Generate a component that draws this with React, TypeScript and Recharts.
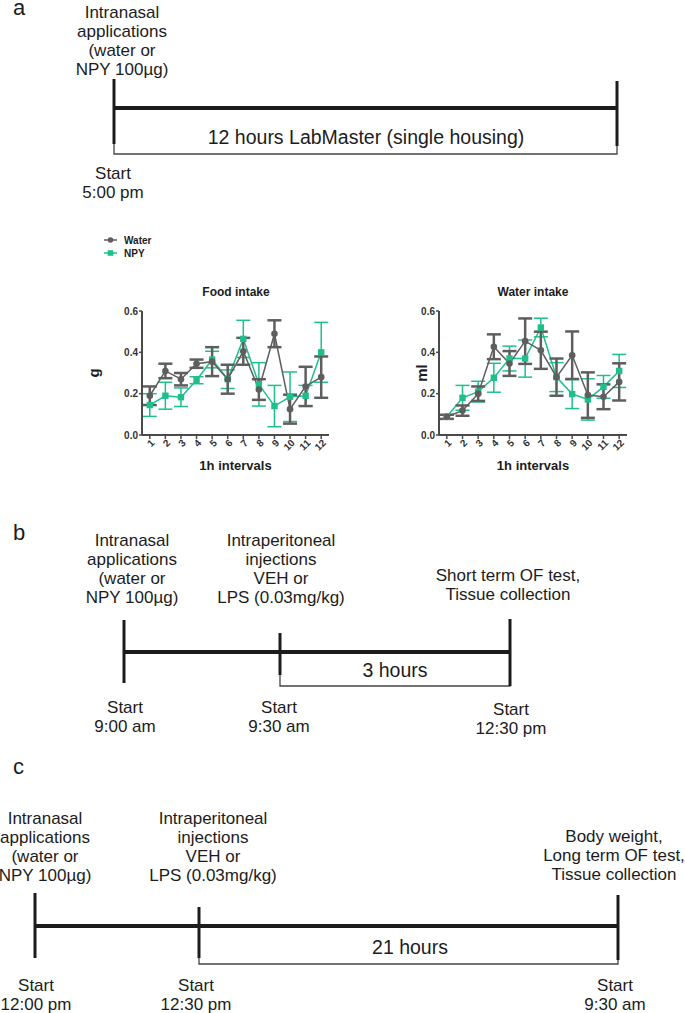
import React from 'react';
import { LineChart, Line, XAxis, YAxis, ErrorBar } from 'recharts';

// 1h intervals after the intranasal application
const hours = [1, 2, 3, 4, 5, 6, 7, 8, 9, 10, 11, 12];
const yTicks = [0, 0.2, 0.4, 0.6];
const groups = ['Water', 'NPY'];

// Food intake (g), mean and SEM
const foodWater = [0.19, 0.31, 0.27, 0.345, 0.355, 0.27, 0.405, 0.22, 0.49, 0.125, 0.235, 0.28];
const foodWaterErr = [0.045, 0.035, 0.03, 0.02, 0.07, 0.07, 0.065, 0.05, 0.065, 0.07, 0.095, 0.1];
const foodNpy = [0.145, 0.19, 0.183, 0.265, 0.365, 0.27, 0.465, 0.245, 0.14, 0.185, 0.19, 0.4];
const foodNpyErr = [0.055, 0.065, 0.045, 0.017, 0.04, 0.045, 0.09, 0.105, 0.1, 0.12, 0.05, 0.145];

// Water intake (ml), mean and SEM
const waterWater = [0.088, 0.118, 0.2, 0.427, 0.346, 0.454, 0.41, 0.28, 0.386, 0.193, 0.185, 0.257];
const waterWaterErr = [0.01, 0.025, 0.035, 0.06, 0.06, 0.11, 0.09, 0.09, 0.115, 0.11, 0.06, 0.09];
const waterNpy = [0.088, 0.18, 0.21, 0.277, 0.37, 0.37, 0.52, 0.28, 0.198, 0.172, 0.233, 0.31];
const waterNpyErr = [0.01, 0.06, 0.05, 0.07, 0.06, 0.09, 0.045, 0.07, 0.07, 0.1, 0.055, 0.08];

// timeline texts
const intranasal = ['Intranasal', 'applications', '(water or', 'NPY 100µg)'];
const intraperitoneal = ['Intraperitoneal', 'injections', 'VEH or', 'LPS (0.03mg/kg)'];

const GRAY = '#5e5e5e';
const GREEN = '#1fbf8d';
const AXIS = '#4a4a4a';
const INK = '#1c1c1c';
const FONT = 'Arial, "Liberation Sans", Helvetica, sans-serif';

function makeRows(water: number[], waterErr: number[], npy: number[], npyErr: number[]) {
  return hours.map((h, i) => ({ hour: h, water: water[i], waterErr: waterErr[i], npy: npy[i], npyErr: npyErr[i] }));
}

function HourTick({ x, y, payload }: any) {
  const ax = x + 3;
  const ay = y;
  return (
    <text x={ax} y={ay} transform={`rotate(-45 ${ax} ${ay})`} textAnchor="end" dominantBaseline="central"
      fontSize={10} fontWeight={700} fill="#333" fontFamily={FONT}>
      {payload.value}
    </text>
  );
}

function SideLabel({ viewBox, text, cx }: any) {
  const cy = viewBox.y + viewBox.height / 2;
  return (
    <text x={cx} y={cy} transform={`rotate(-90 ${cx} ${cy})`} textAnchor="middle" dominantBaseline="central"
      fontSize={15} fontWeight={700} fill={INK} fontFamily={FONT}>
      {text}
    </text>
  );
}

function BottomLabel({ viewBox, text }: any) {
  return (
    <text x={viewBox.x + viewBox.width / 2} y={viewBox.y + 30} textAnchor="middle" dominantBaseline="central"
      fontSize={13} fontWeight={700} fill={INK} fontFamily={FONT}>
      {text}
    </text>
  );
}

const circleDot = (p: any) =>
  <circle key={'w' + p.index} cx={p.cx} cy={p.cy} r={3.3} fill={GRAY} />;
const squareDot = (p: any) =>
  <rect key={'n' + p.index} x={p.cx - 3.2} y={p.cy - 3.2} width={6.4} height={6.4} fill={GREEN} />;

function IntakeChart({ rows, unit, unitX, yWidth }: any) {
  return (
    <LineChart width={260} height={200} data={rows} margin={{ top: 31, right: 11, bottom: 0, left: 10 }}>
      <XAxis dataKey="hour" type="number" domain={[0.5, 12.5]} ticks={hours} interval={0} height={45}
        axisLine={{ stroke: AXIS, strokeWidth: 2 }} tickLine={{ stroke: AXIS, strokeWidth: 1.5 }}
        tickSize={4} tickMargin={2} tick={<HourTick />} label={<BottomLabel text="1h intervals" />} />
      <YAxis type="number" domain={[0, 0.6]} ticks={yTicks} width={yWidth} interval={0}
        axisLine={{ stroke: AXIS, strokeWidth: 2 }} tickLine={{ stroke: AXIS, strokeWidth: 1.5 }}
        tickSize={3} tickMargin={1} tickFormatter={(v: number) => v.toFixed(1)}
        tick={{ fontSize: 10, fontWeight: 700, fill: '#333', fontFamily: FONT }}
        label={<SideLabel text={unit} cx={unitX} />} />
      <Line dataKey="npy" name={groups[1]} stroke={GREEN} strokeWidth={1.5} dot={squareDot} activeDot={false}
        isAnimationActive={false}>
        <ErrorBar dataKey="npyErr" width={7} strokeWidth={1.5} stroke={GREEN} direction="y" isAnimationActive={false} />
      </Line>
      <Line dataKey="water" name={groups[0]} stroke={GRAY} strokeWidth={1.5} dot={circleDot} activeDot={false}
        isAnimationActive={false}>
        <ErrorBar dataKey="waterErr" width={7} strokeWidth={2.5} stroke={GRAY} direction="y" isAnimationActive={false} />
      </Line>
    </LineChart>
  );
}

function TextBlock({ x, y, lines, size = 17, gap = 19 }: any) {
  return (
    <text textAnchor="middle" dominantBaseline="central" fontSize={size} fill={INK} fontFamily={FONT}>
      {lines.map((l: string, i: number) => (
        <tspan key={i} x={x} y={y + i * gap} dominantBaseline="central">{l}</tspan>
      ))}
    </text>
  );
}

function VLine({ x, y1, y2 }: any) {
  return <line x1={x} x2={x} y1={y1} y2={y2} stroke={INK} strokeWidth={3} />;
}

function Timelines() {
  const bar = { stroke: INK, strokeWidth: 4 };
  const thin = { stroke: '#444', strokeWidth: 1.3, fill: 'none' };
  return (
    <svg width={685} height={1013} style={{ position: 'absolute', left: 0, top: 0 }}>
      {/* a */}
      <text x={13} y={15} fontSize={22} fill={INK} fontFamily={FONT}>a</text>
      <TextBlock x={122} y={12} lines={intranasal} />
      <path d="M114 108 V154 H617 V108" {...thin} />
      <line x1={114} x2={617} y1={108} y2={108} {...bar} />
      <VLine x={114} y1={79} y2={144} />
      <VLine x={617} y1={81} y2={146} />
      <TextBlock x={366} y={137} lines={['12 hours LabMaster (single housing)']} size={19.5} />
      <TextBlock x={113} y={173} lines={['Start', '5:00 pm']} />

      {/* b */}
      <text x={13} y={540} fontSize={22} fill={INK} fontFamily={FONT}>b</text>
      <TextBlock x={132} y={540} lines={intranasal} />
      <TextBlock x={281} y={540} lines={intraperitoneal} />
      <TextBlock x={508} y={575} lines={['Short term OF test,', 'Tissue collection']} />
      <path d="M280 652 V686 H510 V652" {...thin} />
      <line x1={124} x2={510} y1={652} y2={652} {...bar} />
      <VLine x={124} y1={620} y2={683} />
      <VLine x={280} y1={633} y2={675} />
      <VLine x={510} y1={619} y2={686} />
      <TextBlock x={395} y={670} lines={['3 hours']} size={19.5} />
      <TextBlock x={125} y={707} lines={['Start', '9:00 am']} />
      <TextBlock x={279} y={707} lines={['Start', '9:30 am']} />
      <TextBlock x={511} y={709} lines={['Start', '12:30 pm']} />

      {/* c */}
      <text x={13} y={774} fontSize={22} fill={INK} fontFamily={FONT}>c</text>
      <TextBlock x={45} y={818} lines={intranasal} />
      <TextBlock x={213} y={818} lines={intraperitoneal} />
      <TextBlock x={614} y={836} lines={['Body weight,', 'Long term OF test,', 'Tissue collection']} />
      <path d="M199 926 V964 H618 V926" {...thin} />
      <line x1={35} x2={618} y1={926} y2={926} {...bar} />
      <VLine x={35} y1={893} y2={958} />
      <VLine x={199} y1={907} y2={958} />
      <VLine x={618} y1={895} y2={960} />
      <TextBlock x={410} y={947} lines={['21 hours']} size={19.5} />
      <TextBlock x={36} y={985} lines={['Start', '12:00 pm']} />
      <TextBlock x={196} y={985} lines={['Start', '12:30 pm']} />
      <TextBlock x={615} y={985} lines={['Start', '9:30 am']} />

      {/* legend */}
      <line x1={104} x2={117} y1={240} y2={240} stroke={GRAY} strokeWidth={1.5} />
      <circle cx={110.5} cy={240} r={2.8} fill={GRAY} />
      <text x={124} y={240} dominantBaseline="central" fontSize={10} fontWeight={700} fill={INK} fontFamily={FONT}>{groups[0]}</text>
      <line x1={104} x2={117} y1={253} y2={253} stroke={GREEN} strokeWidth={1.5} />
      <rect x={107.7} y={250.2} width={5.6} height={5.6} fill={GREEN} />
      <text x={124} y={253} dominantBaseline="central" fontSize={10} fontWeight={700} fill={INK} fontFamily={FONT}>{groups[1]}</text>
    </svg>
  );
}

function Title({ cx, text }: any) {
  return (
    <div style={{ position: 'absolute', left: cx - 80, top: 285, width: 160, textAlign: 'center', lineHeight: '14px',
      fontSize: 12, fontWeight: 700, color: INK, fontFamily: FONT }}>
      {text}
    </div>
  );
}

export default function App() {
  const foodRows = makeRows(foodWater, foodWaterErr, foodNpy, foodNpyErr);
  const waterRows = makeRows(waterWater, waterWaterErr, waterNpy, waterNpyErr);
  return (
    <div style={{ position: 'absolute', left: 0, top: 0, width: 685, height: 1013, background: '#fff',
      overflow: 'hidden', fontFamily: FONT }}>
      <Timelines />
      <Title cx={236} text="Food intake" />
      <Title cx={533} text="Water intake" />
      <div style={{ position: 'absolute', left: 80, top: 280 }}>
        <IntakeChart rows={foodRows} unit="g" unitX={13} yWidth={52} />
      </div>
      <div style={{ position: 'absolute', left: 378, top: 280 }}>
        <IntakeChart rows={waterRows} unit="ml" unitX={43} yWidth={51} />
      </div>
    </div>
  );
}
